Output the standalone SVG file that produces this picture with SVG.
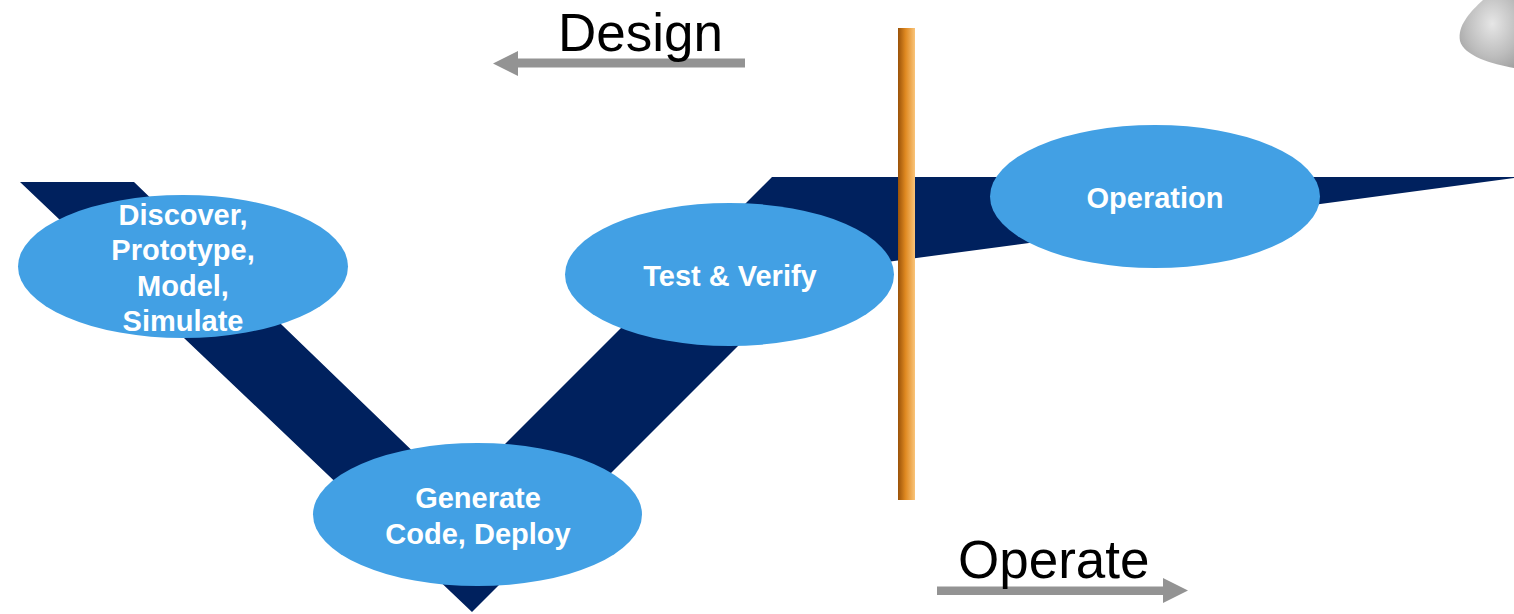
<svg xmlns="http://www.w3.org/2000/svg" width="1514" height="614" viewBox="0 0 1514 614">
  <style>
    .stage { fill: #42A0E4; }
    .stage-label { font-family: "Liberation Sans", Arial, sans-serif; font-weight: bold; font-size: 29px; fill: #FFFFFF; text-anchor: middle; }
    .phase-label { font-family: "Liberation Sans", Arial, sans-serif; font-size: 53px; fill: #000000; }
    .phase-arrow { fill: #939393; }
    .band { fill: #00215E; }
  </style>
  <defs>
    <linearGradient id="barGrad" x1="0" y1="0" x2="1" y2="0">
      <stop offset="0" stop-color="#9A5208"/>
      <stop offset="0.45" stop-color="#E08A22"/>
      <stop offset="1" stop-color="#F9C47A"/>
    </linearGradient>
    <radialGradient id="blobGrad" cx="0.6" cy="0.35" r="0.8">
      <stop offset="0" stop-color="#E6E6E6"/>
      <stop offset="0.6" stop-color="#BDBDBD"/>
      <stop offset="1" stop-color="#9C9C9C"/>
    </radialGradient>
  </defs>

  <rect width="1514" height="614" fill="#FFFFFF"/>

  <!-- grey rounded object in the upper right corner -->
  <path d="M1483,0 C1470,12 1457,26 1460,41 C1464,56 1492,64 1514,68 L1514,0 Z" fill="url(#blobGrad)"/>

  <!-- V-shaped lifecycle band with the flat operation tail -->
  <g id="connectors">
    <path class="band" d="M20,182 L134,182 L456,493 L772,177 L1514,177 L1514,178 L812,272 L472,612 Z"/>
    <!-- phase direction arrows -->
    <path class="phase-arrow" d="M745,58.5 L518,58.5 L518,51 L493,63.5 L518,76 L518,67.5 L745,67.5 Z"/>
    <path class="phase-arrow" d="M937,586.5 L1163,586.5 L1163,578 L1188,590.5 L1163,603 L1163,595 L937,595 Z"/>
  </g>

  <!-- divider between design and operation -->
  <rect id="divider" x="898" y="28" width="17" height="472" fill="url(#barGrad)"/>

  <g id="label-design">
    <text class="phase-label" x="558" y="51">Design</text>
  </g>
  <g id="label-operate">
    <text class="phase-label" x="958" y="578">Operate</text>
  </g>

  <g id="node-discover">
    <ellipse class="stage" cx="183" cy="266.5" rx="165" ry="71.5"/>
    <text class="stage-label" x="183" y="225">Discover,</text>
    <text class="stage-label" x="183" y="260">Prototype,</text>
    <text class="stage-label" x="183" y="296">Model,</text>
    <text class="stage-label" x="183" y="331">Simulate</text>
  </g>

  <g id="node-generate">
    <ellipse class="stage" cx="477.5" cy="514.5" rx="164.5" ry="71.5"/>
    <text class="stage-label" x="478" y="508">Generate</text>
    <text class="stage-label" x="478" y="544">Code, Deploy</text>
  </g>

  <g id="node-test">
    <ellipse class="stage" cx="729.5" cy="274.5" rx="164.5" ry="71.5"/>
    <text class="stage-label" x="730" y="286">Test &amp; Verify</text>
  </g>

  <g id="node-operation">
    <ellipse class="stage" cx="1155" cy="196.5" rx="165" ry="71.5"/>
    <text class="stage-label" x="1155" y="208">Operation</text>
  </g>
</svg>
